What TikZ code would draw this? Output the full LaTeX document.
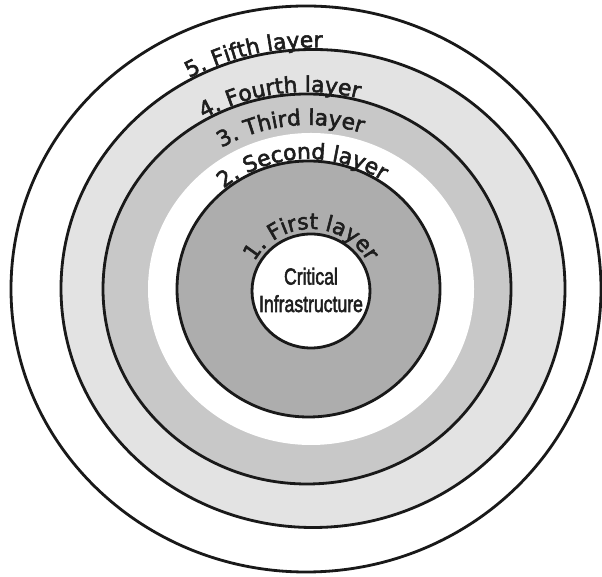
\documentclass[tikz,border=0pt]{standalone}
\usepackage{fontspec}
\setmainfont{Liberation Sans}[BoldFont=Liberation Sans,BoldFeatures={FakeBold=2.5}]
\newfontfamily\ringfont{DejaVu Sans}[BoldFont=DejaVu Sans,BoldFeatures={FakeBold=2.5}]
\usetikzlibrary{decorations.text}
\definecolor{ringlight}{HTML}{E3E3E3}
\definecolor{ringmid}{HTML}{C8C8C8}
\definecolor{ringdark}{HTML}{ADADAD}
\definecolor{inktext}{HTML}{1E1E1E}
\newcommand\ringlabel{\ringfont\bfseries\fontsize{15.5}{18}\selectfont\color{inktext}}
\begin{document}
\begin{tikzpicture}[x=.025cm,y=.025cm,line width=2pt,
    ring/.style={draw=black!90},
    layertext/.style={decorate,decoration={text along path,text align=center,text={|\ringlabel|#1}}}]
  \useasboundingbox (0,0) rectangle (602,576);
  % rings, from the outside in
  \draw[ring,fill=white] (306,287) ellipse [x radius=295,y radius=283];
  \draw[ring,fill=ringlight] (313,287.5) ellipse [x radius=252,y radius=239];
  \draw[ring,fill=ringmid] (307,287) ellipse [x radius=204,y radius=195];
  \fill[white] (311,287) ellipse [x radius=163,y radius=156];
  \draw[ring,fill=ringdark] (308.5,287) ellipse [x radius=131.5,y radius=128];
  \draw[ring,fill=white] (311,285) ellipse [x radius=59,y radius=57];

  % labels along the rings
  \path[layertext={5. Fifth layer}] (313,287.5) ++(164:254 and 241) arc[start angle=164,end angle=44,x radius=254,y radius=241];
  \path[layertext={4. Fourth layer}] (307,287) ++(163:206 and 197) arc[start angle=163,end angle=33,x radius=206,y radius=197];
  \path[layertext={3. Third layer}] (309,287) ++(166:172 and 164) arc[start angle=166,end angle=27,x radius=172,y radius=164];
  \path[layertext={2. Second layer}] (308.5,287) ++(173:133.5 and 130) arc[start angle=173,end angle=13,x radius=133.5,y radius=130];
  \path[layertext={1. First layer}] (311,285) ++(178:64 and 62) arc[start angle=178,end angle=2,x radius=64,y radius=62];

  \node[text=inktext,align=center,xscale=.76,font=\bfseries\fontsize{16.5}{19.5}\selectfont] (core) at (311,286) {Critical\\Infrastructure};
\end{tikzpicture}
\end{document}
